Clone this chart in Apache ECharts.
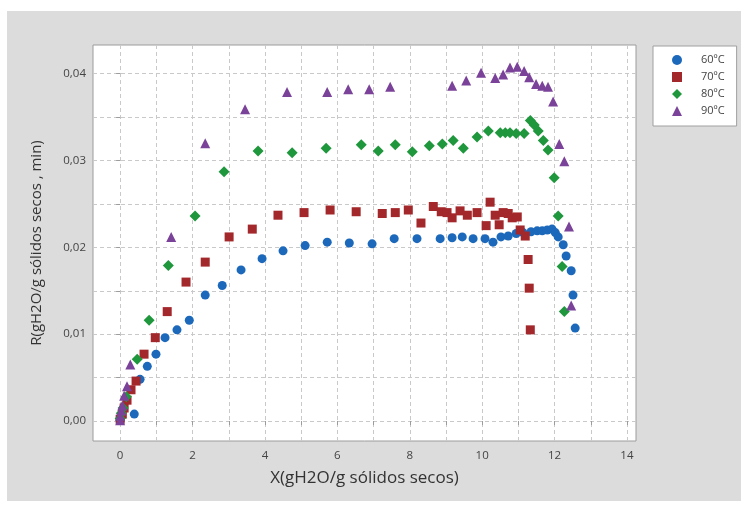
<!DOCTYPE html>
<html>
<head>
<meta charset="utf-8">
<script src="https://cdn.jsdelivr.net/npm/echarts@6/dist/echarts.min.js"></script>
<style>
  html, body { margin: 0; padding: 0; background: #ffffff; }
  #frame { position: absolute; left: 7px; top: 11px; width: 734px; height: 490px; background: #dcdcdc; }
  #chart { position: absolute; left: 0; top: 0; width: 748px; height: 505px; }
</style>
</head>
<body>
<div id="frame"></div>
<div id="chart"></div>
<script>
// ---- Data ----
const seriesNames = ['60ºC', '70ºC', '80ºC', '90ºC'];

const x60 = [0.00, 0.03, 0.39, 0.55, 0.75, 0.99, 1.24, 1.57, 1.91, 2.35, 2.82, 3.34, 3.92, 4.50, 5.11, 5.72, 6.33, 6.96, 7.57, 8.20, 8.84, 9.17, 9.45, 9.75, 10.08, 10.30, 10.52, 10.72, 10.94, 11.13, 11.35, 11.52, 11.66, 11.80, 11.93, 12.02, 12.10, 12.24, 12.32, 12.46, 12.51, 12.57];
const y60 = [0.0001, 0.0005, 0.0008, 0.0048, 0.0063, 0.0077, 0.0096, 0.0105, 0.0116, 0.0145, 0.0156, 0.0174, 0.0187, 0.0196, 0.0202, 0.0206, 0.0205, 0.0204, 0.0210, 0.0210, 0.0210, 0.0211, 0.0212, 0.0210, 0.0210, 0.0206, 0.0212, 0.0213, 0.0216, 0.0217, 0.0218, 0.0219, 0.0219, 0.0220, 0.0221, 0.0217, 0.0212, 0.0203, 0.0190, 0.0173, 0.0145, 0.0107];

const x70 = [0.00, 0.06, 0.11, 0.19, 0.30, 0.44, 0.66, 0.97, 1.30, 1.82, 2.35, 3.01, 3.65, 4.36, 5.08, 5.80, 6.52, 7.24, 7.60, 7.96, 8.31, 8.65, 8.87, 9.03, 9.17, 9.39, 9.59, 9.86, 10.11, 10.22, 10.36, 10.47, 10.58, 10.72, 10.83, 10.97, 11.05, 11.19, 11.27, 11.30, 11.33];
const y70 = [0.0002, 0.0008, 0.0015, 0.0024, 0.0036, 0.0046, 0.0077, 0.0096, 0.0126, 0.0160, 0.0183, 0.0212, 0.0221, 0.0237, 0.0240, 0.0243, 0.0241, 0.0239, 0.0240, 0.0243, 0.0228, 0.0247, 0.0241, 0.0240, 0.0234, 0.0242, 0.0237, 0.0240, 0.0225, 0.0252, 0.0237, 0.0226, 0.0240, 0.0239, 0.0234, 0.0235, 0.0220, 0.0213, 0.0186, 0.0153, 0.0105];

const x80 = [0.00, 0.03, 0.08, 0.17, 0.47, 0.80, 1.33, 2.07, 2.87, 3.81, 4.75, 5.69, 6.66, 7.13, 7.60, 8.07, 8.54, 8.90, 9.20, 9.48, 9.86, 10.17, 10.50, 10.64, 10.77, 10.94, 11.16, 11.33, 11.44, 11.55, 11.69, 11.82, 11.99, 12.10, 12.21, 12.27];
const y80 = [0.0003, 0.0009, 0.0015, 0.0028, 0.0071, 0.0116, 0.0179, 0.0236, 0.0287, 0.0311, 0.0309, 0.0314, 0.0318, 0.0311, 0.0318, 0.0310, 0.0317, 0.0319, 0.0323, 0.0314, 0.0327, 0.0334, 0.0332, 0.0332, 0.0332, 0.0331, 0.0331, 0.0346, 0.0341, 0.0334, 0.0323, 0.0312, 0.0280, 0.0236, 0.0178, 0.0126];

const x90 = [0.00, 0.00, 0.03, 0.06, 0.11, 0.19, 0.28, 1.41, 2.35, 3.45, 4.61, 5.72, 6.30, 6.88, 7.46, 9.17, 9.56, 9.97, 10.36, 10.58, 10.77, 10.97, 11.16, 11.30, 11.49, 11.66, 11.82, 11.96, 12.13, 12.27, 12.40, 12.46];
const y90 = [0.0001, 0.0006, 0.0012, 0.0018, 0.0029, 0.0040, 0.0065, 0.0212, 0.0320, 0.0359, 0.0379, 0.0379, 0.0382, 0.0382, 0.0385, 0.0386, 0.0392, 0.0401, 0.0395, 0.0399, 0.0407, 0.0408, 0.0403, 0.0396, 0.0388, 0.0386, 0.0385, 0.0368, 0.0319, 0.0299, 0.0224, 0.0133];

const xTickValues = [0, 1, 2, 3, 4, 5, 6, 7, 8, 9, 10, 11, 12, 13, 14];
const xLabelValues = [0, 2, 4, 6, 8, 10, 12, 14];
const yTickValues = [0, 0.005, 0.01, 0.015, 0.02, 0.025, 0.03, 0.035, 0.04];
const yLabelValues = [0, 0.01, 0.02, 0.03, 0.04];

const xAxisTitle = 'X(gH2O/g sólidos secos)';
const yAxisTitle = 'R(gH2O/g sólidos secos , min)';

// ---- Styling ----
const colors = ['#1c68ba', '#a3282b', '#1f973d', '#7a4299'];
const symbols = ['circle', 'rect', 'diamond', 'triangle'];
const sizes = [9, 9, 11, 10];
const font = '"Open Sans", "Noto Sans", sans-serif';

function pairs(xs, ys) { return xs.map((v, i) => [v, ys[i]]); }
const dataSets = [pairs(x60, y60), pairs(x70, y70), pairs(x80, y80), pairs(x90, y90)];

const gridLine = { show: true, lineStyle: { color: '#c9c9c9', type: [4, 3], width: 1 } };

const chart = echarts.init(document.getElementById('chart'), null, { renderer: 'canvas' });
chart.setOption({
  backgroundColor: 'transparent',
  animation: false,
  textStyle: { fontFamily: font },
  grid: {
    left: 93, right: 112, top: 45, bottom: 64,
    show: true, backgroundColor: '#ffffff', borderColor: '#9c9c9c', borderWidth: 1
  },
  legend: {
    orient: 'vertical',
    left: 653, top: 46,
    padding: [8, 12, 9, 19],
    itemGap: 5,
    itemWidth: 10, itemHeight: 10,
    backgroundColor: '#ffffff',
    borderColor: '#a0a0a0', borderWidth: 1,
    textStyle: { fontSize: 11, lineHeight: 12, color: '#444', padding: [0, 0, 0, 14], fontFamily: font },
    data: seriesNames
  },
  xAxis: {
    type: 'value',
    min: -0.75, max: 14.25,
    name: xAxisTitle,
    nameLocation: 'middle',
    nameGap: 29,
    nameTextStyle: { fontSize: 17, color: '#333' },
    axisLine: { show: false },
    axisTick: { show: true, inside: false, length: 4, lineStyle: { color: '#9c9c9c' }, customValues: xTickValues },
    axisLabel: { fontSize: 11.5, color: '#444', margin: 9, customValues: xLabelValues, formatter: v => String(v) },
    splitLine: gridLine
  },
  yAxis: {
    type: 'value',
    min: -0.0023, max: 0.0433,
    name: yAxisTitle,
    nameLocation: 'middle',
    nameGap: 49,
    nameTextStyle: { fontSize: 15, color: '#333' },
    axisLine: { show: false },
    axisTick: { show: true, inside: false, length: 4, lineStyle: { color: '#9c9c9c' }, customValues: yTickValues },
    axisLabel: { fontSize: 11.5, color: '#444', margin: 7, customValues: yLabelValues,
      formatter: v => v.toFixed(2).replace('.', ',') },
    splitLine: gridLine
  },
  series: seriesNames.map((name, i) => ({
    name: name,
    type: 'scatter',
    symbol: symbols[i],
    symbolSize: sizes[i],
    itemStyle: { color: colors[i], opacity: 1 },
    data: dataSets[i]
  }))
});
</script>
</body>
</html>
